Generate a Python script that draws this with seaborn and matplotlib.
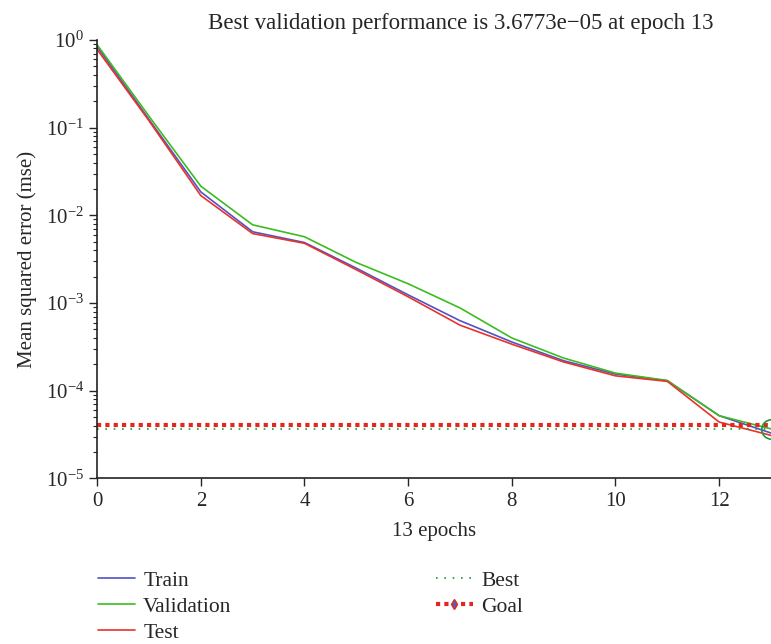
import pandas as pd
import matplotlib.pyplot as plt
import seaborn as sns
from matplotlib.lines import Line2D

# values
epochs = list(range(14))
train = [0.84, 0.124, 0.0185, 0.0065, 0.0049, 0.0025, 0.00124, 0.00063, 0.00036,
         0.00022, 0.000155, 0.000130, 5.2e-05, 3.3e-05]
validation = [0.88, 0.135, 0.0215, 0.0078, 0.0057, 0.0029, 0.00166, 0.00088, 0.00040,
              0.000236, 0.000159, 0.000131, 5.2e-05, 3.6773e-05]
test = [0.78, 0.120, 0.0168, 0.0062, 0.0048, 0.0024, 0.00118, 0.00056, 0.00034,
        0.000213, 0.000148, 0.000128, 4.4e-05, 3.1e-05]
best_epoch = 13
best_perf = 3.6773e-05
goal = 4.1e-05

series_names = ['Train', 'Validation', 'Test']
colors = ['#5252c8', '#3cbc1e', '#e8322a']

df = pd.DataFrame({
    'epoch': epochs * 3,
    'mse': train + validation + test,
    'series': ['Train'] * 14 + ['Validation'] * 14 + ['Test'] * 14,
})

sns.set_style('ticks')
plt.rcParams['font.family'] = ['Liberation Serif', 'DejaVu Serif']
plt.rcParams['mathtext.fontset'] = 'custom'
plt.rcParams['mathtext.rm'] = 'Liberation Serif'
plt.rcParams['mathtext.it'] = 'Liberation Serif:italic'

fig = plt.figure(figsize=(7.71, 6.44), dpi=100)
ax = fig.add_axes([0.126, 0.257, 0.874, 0.681])

sns.lineplot(data=df, x='epoch', y='mse', hue='series', hue_order=series_names,
             palette=colors, linewidth=1.2, ax=ax, legend=False)

# best and goal lines
ax.axhline(best_perf, color='#1a9a3a', linestyle=(0, (1, 4)), linewidth=1.2)
ax.axhline(goal, color='#e0281e', linestyle=(0, (1, 1)), linewidth=3)
ax.plot([best_epoch], [best_perf], marker='o', markersize=14, markerfacecolor='none',
        markeredgecolor='#1a9a3a', markeredgewidth=1.2, clip_on=True)

ax.set_yscale('log')
ax.set_ylim(1e-5, 1)
ax.set_xlim(0, 13)
ax.set_xticks([0, 2, 4, 6, 8, 10, 12])
sns.despine(ax=ax)
ax.tick_params(axis='both', which='major', labelsize=15, length=6, width=1, direction='out')
ax.tick_params(axis='y', which='minor', length=3, width=0.8)
for s in ['left', 'bottom']:
    ax.spines[s].set_linewidth(1.2)
    ax.spines[s].set_color('#222222')

ax.set_title('Best validation performance is 3.6773e\u221205 at epoch 13', fontsize=16.5, pad=8, x=0.54)
ax.set_xlabel('13 epochs', fontsize=15, labelpad=8)
ax.set_ylabel('Mean squared error (mse)', fontsize=15, labelpad=6)

handles = [
    Line2D([], [], color=colors[0], linewidth=1.2),
    Line2D([], [], color=colors[1], linewidth=1.2),
    Line2D([], [], color=colors[2], linewidth=1.2),
    Line2D([], [], color='#1a9a3a', linestyle=(0, (1, 4)), linewidth=1.2),
    Line2D([], [], color='#e0281e', linestyle=(0, (1, 1)), linewidth=3,
           marker='d', markersize=5, markerfacecolor='#5a5ac8', markeredgecolor='#e0281e'),
]
fig.legend(handles, ['Train', 'Validation', 'Test', 'Best', 'Goal'], ncol=2,
           loc='upper left', bbox_to_anchor=(0.102, 0.144), frameon=False,
           fontsize=15.5, handlelength=1.7, columnspacing=9.5, labelspacing=0.28,
           handletextpad=0.4)

fig.savefig('out.png', dpi=100)
